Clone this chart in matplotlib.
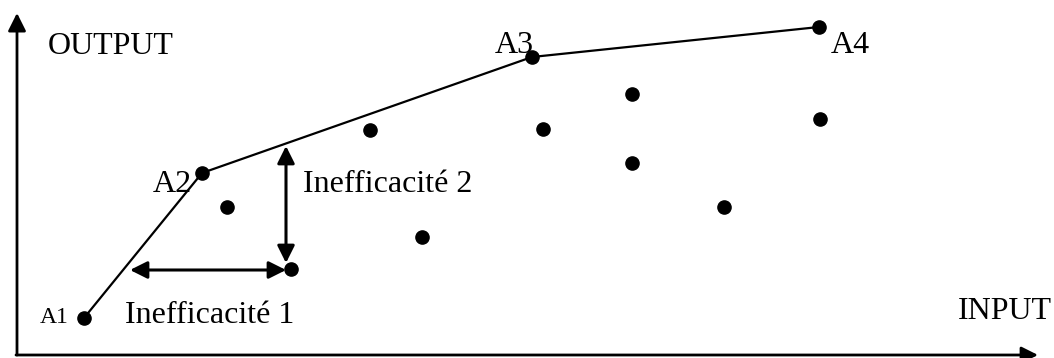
import matplotlib
matplotlib.use("Agg")
import matplotlib.pyplot as plt

plt.rcParams['font.family'] = ['Liberation Serif', 'DejaVu Serif']

# Data (image-like coordinates: x = input, y measured downward)
frontier_names = ["A1", "A2", "A3", "A4"]
frontier_x = [84, 202, 532, 819]
frontier_y = [318, 173, 57, 27]

other_x = [227, 291, 370, 422, 543, 632, 632, 724, 820]
other_y = [207, 269, 130, 237, 129, 94, 163, 207, 119]

fig = plt.figure(figsize=(10.54, 3.58), dpi=100)
ax = fig.add_axes([0, 0, 1, 1])
ax.set_xlim(0, 1054)
ax.set_ylim(358, 0)
ax.axis('off')

# axes arrows
ax.annotate("", xy=(17, 13), xytext=(17, 355),
            arrowprops=dict(arrowstyle='-|>', color='black', lw=2,
                            mutation_scale=27, shrinkA=0, shrinkB=0))
ax.annotate("", xy=(1038, 355), xytext=(16, 355),
            arrowprops=dict(arrowstyle='-|>', color='black', lw=2,
                            mutation_scale=25, shrinkA=0, shrinkB=0))

# frontier
ax.plot(frontier_x, frontier_y, color='black', lw=1.6, zorder=2)
ax.plot(frontier_x, frontier_y, 'o', color='black', ms=9.5, zorder=3)
ax.plot(other_x, other_y, 'o', color='black', ms=9.5, zorder=3)

# inefficiency arrows
ax.annotate("", xy=(130, 270), xytext=(286, 270),
            arrowprops=dict(arrowstyle='<|-|>', color='black', lw=2.2,
                            mutation_scale=26, shrinkA=0, shrinkB=0))
ax.annotate("", xy=(286, 146), xytext=(286, 263),
            arrowprops=dict(arrowstyle='<|-|>', color='black', lw=2.2,
                            mutation_scale=26, shrinkA=0, shrinkB=0))

fs = 23
ax.text(48, 54, "OUTPUT", fontsize=fs, va='baseline', ha='left')
ax.text(958, 319, "INPUT", fontsize=fs, va='baseline', ha='left')
ax.text(40, 323, "A1", fontsize=17, va='baseline', ha='left')
ax.text(125, 323, "Inefficacité 1", fontsize=fs, va='baseline', ha='left')
ax.text(153, 192, "A2", fontsize=fs, va='baseline', ha='left')
ax.text(495, 53, "A3", fontsize=fs, va='baseline', ha='left')
ax.text(831, 53, "A4", fontsize=fs, va='baseline', ha='left')
ax.text(303, 192, "Inefficacité 2", fontsize=fs, va='baseline', ha='left')

fig.savefig("out.png", dpi=100)
